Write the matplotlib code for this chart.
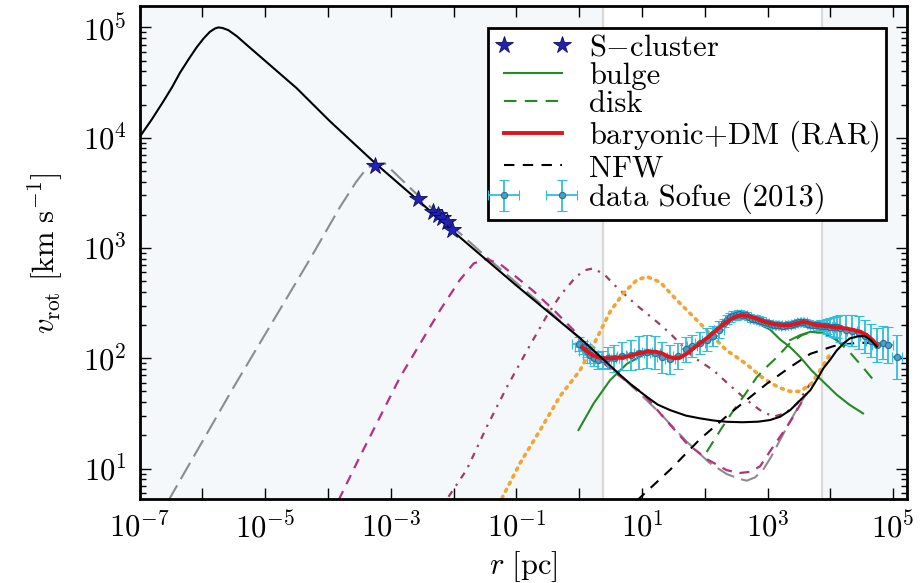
import numpy as np
import matplotlib
matplotlib.use("Agg")
import matplotlib.pyplot as plt

plt.rcParams["font.family"] = "serif"
plt.rcParams["font.serif"] = ["cmr10"]
plt.rcParams["mathtext.fontset"] = "cm"
plt.rcParams["axes.formatter.use_mathtext"] = True
plt.rcParams["axes.unicode_minus"] = True

# --- rotation curves, stored as (log10 r [pc], log10 v [km/s]) ---
rar_logr = [-7.0, -6.80, -6.62, -6.48, -6.355, -6.22, -6.09, -5.98, -5.88, -5.80, -5.745,
            -5.68, -5.585, -5.45, -5.29, -4.5, -3.97, -3.25, -2.5, -1.975, -1.0, -0.3, 0.0,
            0.385, 0.651, 0.85, 1.076, 1.25, 1.447, 1.7, 1.925, 2.15, 2.35, 2.6, 2.85, 3.04,
            3.2, 3.36, 3.52, 3.68, 3.80, 3.89, 4.0, 4.10, 4.21, 4.31, 4.45, 4.55, 4.63, 4.70, 4.74]
rar_logv = [4.005, 4.17, 4.33, 4.46, 4.59, 4.71, 4.82, 4.90, 4.96, 4.99, 5.0,
            4.995, 4.975, 4.92, 4.84, 4.45, 4.15, 3.77, 3.40, 3.134, 2.66, 2.33, 2.19,
            1.99, 1.85, 1.75, 1.651, 1.58, 1.53, 1.48, 1.455, 1.435, 1.424, 1.42, 1.425, 1.44,
            1.47, 1.53, 1.62, 1.71, 1.82, 1.91, 1.99, 2.07, 2.135, 2.18, 2.20, 2.20, 2.17, 2.13, 2.105]

gray_logr = [-6.55, -5.5, -4.28, -3.81, -3.55, -3.40, -3.28, -3.1, -2.5, -1.5, -0.5, 0.3,
             1.02, 1.29, 1.71, 2.08, 2.35, 2.56, 2.67, 2.80, 2.93, 3.05, 3.20, 3.35, 3.52, 3.62]
gray_logv = [0.70, 1.74, 2.905, 3.37, 3.60, 3.71, 3.76, 3.77, 3.44, 2.93, 2.44, 2.03,
             1.65, 1.50, 1.245, 1.05, 0.95, 0.905, 0.89, 0.92, 0.99, 1.10, 1.26, 1.42, 1.59, 1.68]

pink_logr = [-3.83, -3.49, -3.17, -2.85, -2.53, -2.21, -1.90, -1.68, -1.47, -1.25, -1.05,
             -0.73, -0.41, -0.09, 0.12, 0.5, 1.02, 1.35, 1.71, 2.05, 2.35, 2.56, 2.72, 2.88,
             3.09, 3.25, 3.41, 3.62]
pink_logv = [0.714, 1.11, 1.47, 1.83, 2.135, 2.44, 2.71, 2.86, 2.90, 2.85, 2.76,
             2.61, 2.44, 2.256, 2.10, 1.90, 1.68, 1.46, 1.23, 1.08, 0.985, 0.96, 0.97, 1.02,
             1.20, 1.33, 1.47, 1.68]

dd_logr = [-2.08, -1.79, -1.47, -1.15, -0.83, -0.52, -0.30, -0.05, 0.10, 0.226, 0.40, 0.57,
           0.917, 1.26, 1.447, 1.82, 2.14, 2.35, 2.67, 2.88, 3.09, 3.28, 3.47, 3.68]
dd_logv = [0.744, 0.99, 1.38, 1.74, 2.07, 2.38, 2.57, 2.74, 2.80, 2.815, 2.76, 2.66,
           2.48, 2.32, 2.226, 2.01, 1.89, 1.78, 1.62, 1.53, 1.47, 1.50, 1.59, 1.77]

dot_logr = [-1.23, -0.94, -0.62, -0.30, 0.014, 0.28, 0.49, 0.704, 0.917, 1.08, 1.29, 1.55,
            1.82, 2.08, 2.35, 2.56, 2.72, 2.88, 3.04, 3.20, 3.36, 3.52, 3.70, 3.89, 4.0]
dot_logv = [0.73, 1.05, 1.35, 1.66, 1.89, 2.18, 2.42, 2.59, 2.71, 2.74, 2.69, 2.53,
            2.376, 2.226, 2.07, 1.99, 1.92, 1.84, 1.78, 1.73, 1.70, 1.70, 1.77, 1.94, 2.04]

bulge_logr = [-0.01, 0.23, 0.49, 0.76, 1.02, 1.18, 1.35, 1.5, 1.7, 1.9, 2.1, 2.3, 2.45, 2.6,
              2.75, 2.9, 3.04, 3.2, 3.36, 3.52, 3.7, 3.9, 4.1, 4.3, 4.52]
bulge_logv = [1.35, 1.59, 1.80, 1.95, 2.03, 2.04, 2.02, 1.99, 2.03, 2.12, 2.23, 2.33, 2.37, 2.38,
              2.35, 2.30, 2.26, 2.17, 2.10, 2.01, 1.89, 1.78, 1.67, 1.58, 1.50]
arc_logr = [3.36, 3.52, 3.68, 3.89, 4.10]
arc_logv = [2.165, 2.21, 2.24, 2.23, 2.165]

disk_logr = [2.03, 2.25, 2.46, 2.65, 2.83, 3.0, 3.15, 3.36, 3.55, 3.7, 3.89, 4.1, 4.3, 4.5, 4.69]
disk_logv = [1.15, 1.35, 1.53, 1.68, 1.83, 1.93, 2.01, 2.14, 2.21, 2.24, 2.23, 2.165, 2.06, 1.93, 1.80]

total_logr = [0.05, 0.2, 0.35, 0.5, 0.65, 0.8, 0.95, 1.08, 1.2, 1.3, 1.42, 1.52, 1.62, 1.72,
              1.82, 1.92, 2.05, 2.19, 2.30, 2.40, 2.50, 2.58, 2.68, 2.80, 2.95, 3.09, 3.22,
              3.36, 3.47, 3.57, 3.66, 3.78, 3.95, 4.10, 4.25, 4.37, 4.48, 4.58, 4.66, 4.74]
total_logv = [2.10, 2.03, 2.0, 2.0, 2.005, 2.02, 2.045, 2.06, 2.06, 2.05, 2.015, 2.0, 2.01, 2.045,
              2.09, 2.135, 2.19, 2.256, 2.31, 2.35, 2.38, 2.39, 2.385, 2.365, 2.33, 2.31, 2.30,
              2.30, 2.315, 2.33, 2.32, 2.30, 2.29, 2.28, 2.27, 2.256, 2.24, 2.21, 2.17, 2.12]

nfw_logr = [0.92, 1.45, 1.93, 2.40, 2.99, 3.36, 3.68, 4.05, 4.42, 4.74]
nfw_logv = [0.71, 0.99, 1.27, 1.50, 1.77, 1.92, 2.04, 2.11, 2.14, 2.14]

# S-cluster stars
star_logr = [-3.25, -2.56, -2.32, -2.24, -2.19, -2.11, -2.03]
star_logv = [3.745, 3.44, 3.33, 3.30, 3.27, 3.24, 3.16]

# Sofue (2013) rotation data: log r, log v, half error in dex (v and r)
sofue_logr = [0.00, 0.06, 0.12, 0.18, 0.24, 0.30, 0.38, 0.46,
              0.55, 0.68, 0.82, 0.95, 1.08, 1.20, 1.32, 1.45, 1.58, 1.70, 1.80, 1.92, 2.03, 2.13, 2.22,
              2.30, 2.35, 2.40, 2.45, 2.50, 2.55, 2.60, 2.65, 2.70, 2.75, 2.80, 2.85, 2.90, 2.95,
              3.00, 3.05, 3.10, 3.15, 3.20, 3.25, 3.30, 3.35, 3.40, 3.45, 3.50, 3.55, 3.60, 3.65,
              3.70, 3.75, 3.80, 3.85, 3.90, 3.95, 4.00, 4.05, 4.10,
              4.15, 4.25, 4.35, 4.45, 4.55, 4.65, 4.75, 4.83, 4.92, 5.06]
sofue_logv = [2.13, 2.10, 2.07, 2.03, 2.00, 1.98, 1.99, 2.00,
              2.00, 2.02, 2.03, 2.05, 2.06, 2.05, 2.01, 1.99, 2.02, 2.08, 2.11, 2.14, 2.17, 2.20, 2.26,
              2.32, 2.35, 2.37, 2.385, 2.39, 2.40, 2.395, 2.39, 2.375, 2.36, 2.36, 2.35, 2.34, 2.33,
              2.32, 2.31, 2.305, 2.30, 2.30, 2.295, 2.30, 2.305, 2.31, 2.32, 2.33, 2.33, 2.325, 2.315,
              2.305, 2.30, 2.30, 2.295, 2.29, 2.29, 2.285, 2.28, 2.28,
              2.27, 2.26, 2.25, 2.23, 2.20, 2.16, 2.12, 2.14, 2.12, 2.01]
sofue_dlogv = [0.06, 0.06, 0.06, 0.07, 0.07, 0.08, 0.08, 0.10,
               0.12, 0.13, 0.14, 0.15, 0.15, 0.15, 0.14, 0.13, 0.12, 0.11, 0.10, 0.10, 0.10, 0.09, 0.08,
               0.04, 0.04, 0.04, 0.04, 0.04, 0.04, 0.03, 0.03, 0.03, 0.03, 0.03, 0.03, 0.03, 0.03,
               0.03, 0.03, 0.03, 0.03, 0.03, 0.03, 0.03, 0.03, 0.03, 0.03, 0.03, 0.03, 0.03, 0.03,
               0.03, 0.03, 0.04, 0.05, 0.06, 0.07, 0.08, 0.09, 0.10,
               0.12, 0.13, 0.14, 0.15, 0.15, 0.15, 0.15, 0.15, 0.16, 0.20]
sofue_dlogr = [0.12] * 8 + [0.08] * 15 + [0.03] * 37 + [0.08] * 10


def lin(a):
    return np.power(10.0, np.asarray(a, dtype=float))


fig = plt.figure(figsize=(9.21, 5.83), dpi=100)
ax = fig.add_axes([0.1515, 0.1441, 0.8333, 0.8448])
ax.set_xscale("log")
ax.set_yscale("log")
xmin, xmax = 1e-7, 10 ** 5.22
ax.set_xlim(xmin, xmax)
ax.set_ylim(10 ** 0.724, 10 ** 5.19)

# shaded regions outside the Sofue range
shade = "#f4f8fa"
r_in, r_out = 10 ** 0.38, 10 ** 3.86
ax.axvspan(xmin, r_in, color=shade, lw=0, zorder=0)
ax.axvspan(r_out, xmax, color=shade, lw=0, zorder=0)
for xb in (r_in, r_out):
    ax.axvline(xb, color="#d9d9d9", lw=1.6, zorder=0.5)

ax.plot(lin(gray_logr), lin(gray_logv), color="#8c8c8c", lw=1.5, ls=(0, (9, 3.5)), zorder=2)
ax.plot(lin(pink_logr), lin(pink_logv), color="#b8307c", lw=1.6, ls=(0, (4.5, 3.5)), zorder=2)
ax.plot(lin(dd_logr), lin(dd_logv), color="#9c3f5c", lw=1.6, ls=(0, (3, 3, 1, 3)), zorder=2)
ax.plot(lin(dot_logr), lin(dot_logv), color="#f2a531", lw=2.6, ls=(0, (0.6, 1.6)),
        dash_capstyle="round", zorder=2)

ax.plot(lin(bulge_logr), lin(bulge_logv), color="#228b22", lw=1.5, zorder=3, label="bulge")
ax.plot(lin(arc_logr), lin(arc_logv), color="#228b22", lw=1.5, zorder=3)
ax.plot(lin(disk_logr), lin(disk_logv), color="#228b22", lw=1.5, ls=(0, (6, 4)), zorder=3,
        label="disk")
ax.plot(lin(nfw_logr), lin(nfw_logv), color="black", lw=1.5, ls=(0, (5, 4)), zorder=3,
        label="NFW")

v = lin(sofue_logv)
r = lin(sofue_logr)
dv = np.asarray(sofue_dlogv)
dr = np.asarray(sofue_dlogr)
verr = [v - v * 10 ** (-dv), v * 10 ** dv - v]
rerr = [r - r * 10 ** (-dr), r * 10 ** dr - r]
ax.errorbar(r, v, yerr=verr, xerr=rerr, fmt="o", ms=4.5, color="#2fbedd", mfc="#4a9fc9",
            mec="#2a6f9a", mew=0.8, elinewidth=1.3, capsize=3.5, capthick=1.2, zorder=4,
            label="data Sofue (2013)")

ax.plot(lin(total_logr), lin(total_logv), color="#e3131b", lw=2.8, zorder=5,
        label=r"baryonic$+$DM (RAR)")
ax.plot(lin(rar_logr), lin(rar_logv), color="black", lw=1.5, zorder=6)
ax.plot(lin(star_logr), lin(star_logv), ls="none", marker="*", ms=13, color="#2222b0",
        mec="#0a0a60", mew=0.6, zorder=7, label=r"S$-$cluster")

# ticks: every decade on r, labels on odd powers only
decades = 10.0 ** np.arange(-7, 6)
ax.set_xticks(decades)
ax.set_xticklabels([r"$10^{%d}$" % e if e % 2 else "" for e in range(-7, 6)])
ax.xaxis.set_minor_locator(matplotlib.ticker.NullLocator())
ax.set_yticks(10.0 ** np.arange(1, 6))
ax.yaxis.set_minor_locator(matplotlib.ticker.LogLocator(base=10, subs=np.arange(2, 10)))
ax.yaxis.set_minor_formatter(matplotlib.ticker.NullFormatter())
ax.tick_params(which="both", direction="in", top=True, right=True, labelsize=22, width=1.0)
ax.tick_params(which="major", length=8, pad=9)
ax.tick_params(which="minor", length=4)
for sp in ax.spines.values():
    sp.set_linewidth(2.0)

ax.set_xlabel(r"$r\ [{\rm pc}]$", fontsize=22, labelpad=4)
ax.set_ylabel(r"$v_{\rm rot}\ [{\rm km\ s^{-1}}]$", fontsize=22, labelpad=12)

handles, labels = ax.get_legend_handles_labels()
order = ["S$-$cluster", "bulge", "disk", "baryonic$+$DM (RAR)", "NFW", "data Sofue (2013)"]
hmap = dict(zip(labels, handles))
leg = ax.legend([hmap[k] for k in order], order, loc="upper right", numpoints=2,
                fontsize=22, labelspacing=0.02, handlelength=2.5, handletextpad=0.6,
                borderpad=0.2, borderaxespad=0.7, fancybox=False, framealpha=1.0,
                facecolor="white", edgecolor="black")
leg.get_frame().set_linewidth(2.0)

fig.savefig("out.png", dpi=100)
